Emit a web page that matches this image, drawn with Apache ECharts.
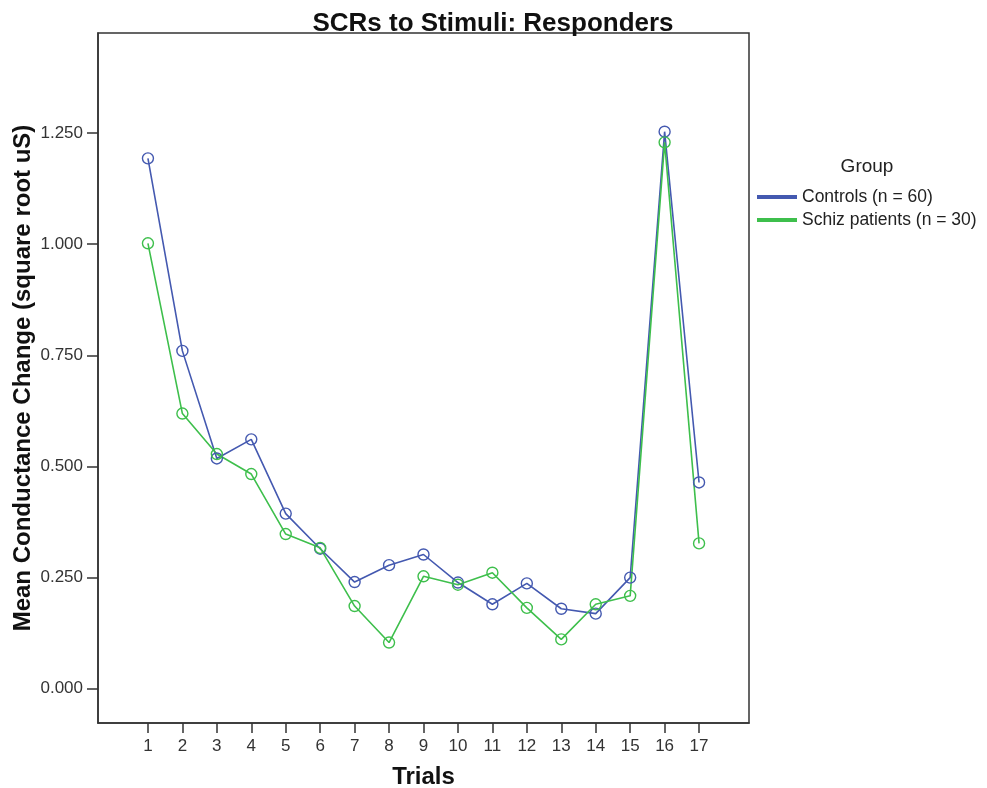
<!DOCTYPE html>
<html>
<head>
<meta charset="utf-8">
<script src="https://cdn.jsdelivr.net/npm/echarts@6/dist/echarts.min.js"></script>
<style>
  html, body { margin: 0; padding: 0; background: #fff; }
  #chart { width: 987px; height: 788px; }
</style>
</head>
<body>
<div id="chart"></div>
<script>
// SCRs to Stimuli: Responders — mean conductance change per trial

const trials = [1, 2, 3, 4, 5, 6, 7, 8, 9, 10, 11, 12, 13, 14, 15, 16, 17];
const controls = [1.193, 0.760, 0.518, 0.561, 0.394, 0.315, 0.240, 0.278, 0.302, 0.239, 0.190, 0.237, 0.180, 0.169, 0.250, 1.253, 0.464];
const schiz = [1.002, 0.619, 0.528, 0.483, 0.348, 0.317, 0.186, 0.104, 0.253, 0.234, 0.261, 0.182, 0.111, 0.190, 0.209, 1.229, 0.327];
const yTicks = [0, 0.25, 0.5, 0.75, 1.0, 1.25];
const names = ['Controls (n = 60)', 'Schiz patients (n = 30)'];

const BLUE = '#4459b0';
const GREEN = '#3ebf4c';
const FONT = 'Liberation Sans, Arial, sans-serif';

const chart = echarts.init(document.getElementById('chart'));

function toPairs(vals) {
  return trials.map((t, i) => [t, vals[i]]);
}

function lineSeries(name, vals, color) {
  return {
    name: name,
    type: 'line',
    data: toPairs(vals),
    symbol: 'circle',
    symbolSize: 11,
    showAllSymbol: true,
    lineStyle: { color: color, width: 1.6 },
    itemStyle: { color: 'rgba(0,0,0,0)', borderColor: color, borderWidth: 1.4 },
    emphasis: { disabled: true },
    z: 3
  };
}

chart.setOption({
  backgroundColor: '#fff',
  animation: false,
  textStyle: { fontFamily: FONT },
  title: [{
    text: 'SCRs to Stimuli: Responders',
    left: 493, top: 11, textAlign: 'center', padding: 0,
    textStyle: { fontSize: 26, fontWeight: 'bold', color: '#111', fontFamily: FONT }
  }, {
    text: 'Group',
    left: 867, top: 157, textAlign: 'center', padding: 0,
    textStyle: { fontSize: 19, fontWeight: 'normal', color: '#222', fontFamily: FONT }
  }],
  legend: {
    orient: 'vertical',
    left: 757, top: 188,
    padding: 0,
    itemGap: 5,
    itemWidth: 38, itemHeight: 2,
    icon: 'rect',
    textStyle: { fontSize: 17.5, color: '#222', fontFamily: FONT, padding: [0, 0, 0, 1] },
    data: [
      { name: names[0], itemStyle: { color: '#6a7cc6' } },
      { name: names[1], itemStyle: { color: '#5fca6a' } }
    ]
  },
  grid: {
    left: 98, right: 238, top: 33, bottom: 65,
    show: true, borderColor: '#333', borderWidth: 1.5,
    containLabel: false,
    outerBoundsMode: 'none'
  },
  xAxis: {
    type: 'value',
    min: -0.45, max: 18.45,
    name: 'Trials',
    nameLocation: 'middle',
    nameGap: 42,
    nameMoveOverlap: false,
    nameTextStyle: { fontSize: 24, fontWeight: 'bold', color: '#111', fontFamily: FONT },
    axisLine: { show: true, onZero: false, lineStyle: { color: '#333', width: 1.5 } },
    axisTick: { show: true, length: 10, customValues: trials, lineStyle: { color: '#333', width: 1.5 } },
    axisLabel: { customValues: trials, fontSize: 17, color: '#333', margin: 15, fontFamily: FONT },
    splitLine: { show: false }
  },
  yAxis: {
    type: 'value',
    min: -0.077, max: 1.475,
    name: 'Mean Conductance Change (square root uS)',
    nameLocation: 'middle',
    nameGap: 63,
    nameMoveOverlap: false,
    nameTextStyle: { fontSize: 24, fontWeight: 'bold', color: '#111', fontFamily: FONT },
    axisLine: { show: true, onZero: false, lineStyle: { color: '#333', width: 1.5 } },
    axisTick: { show: true, length: 11, customValues: yTicks, lineStyle: { color: '#333', width: 1.5 } },
    axisLabel: {
      customValues: yTicks, fontSize: 17, color: '#333', margin: 15, fontFamily: FONT,
      formatter: v => v.toFixed(3)
    },
    splitLine: { show: false }
  },
  series: [
    lineSeries(names[0], controls, BLUE),
    lineSeries(names[1], schiz, GREEN)
  ]
});

window.addEventListener('resize', () => chart.resize());
</script>
</body>
</html>
